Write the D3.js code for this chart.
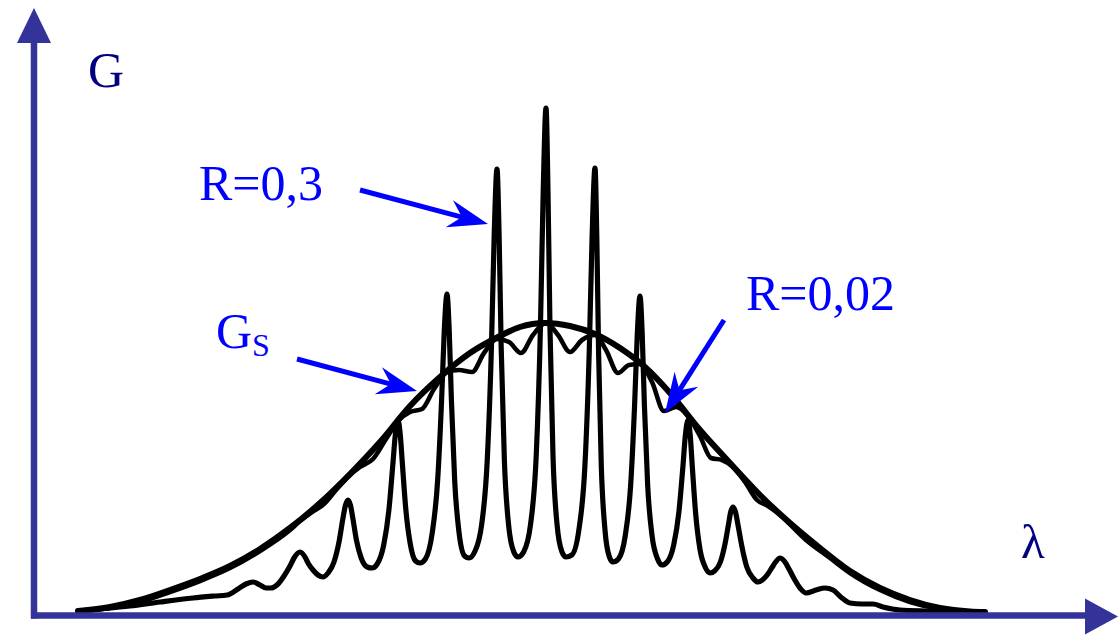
<!DOCTYPE html>
<html>
<head>
<meta charset="utf-8">
<script src="https://cdn.jsdelivr.net/npm/d3@7"></script>
<style>
  html, body { margin: 0; padding: 0; background: #fff; }
  svg { display: block; }
  .curve { fill: none; stroke: #000; stroke-linejoin: round; stroke-linecap: round; }
  text { font-family: "Liberation Serif", "Times New Roman", serif; }
</style>
</head>
<body>
<div id="chart"></div>
<script>
/* ---------------------------------------------------------------- */
/* DATA (lambda, G), arbitrary units            */
/* ---------------------------------------------------------------- */

// single-pass gain envelope G_S
const gsEnvelope = [
  [44, 1], [76, 5], [106, 12], [136, 22], [166, 33], [196, 46], [226, 63], [256, 84],
  [286, 109], [316, 138], [346, 170], [376, 206], [406, 235], [436, 259], [466, 276],
  [486, 285], [511, 289], [536, 286], [561, 278], [586, 264], [611, 245], [636, 219],
  [666, 182], [696, 149], [726, 117], [756, 89], [786, 64], [816, 41], [846, 24],
  [876, 12], [906, 4], [936, 0.5], [951, 0]
];

// R = 0,02 : small ripple just under the envelope
const gainR002 = [
  [44, 1], [76, 4], [106, 10], [136, 20], [166, 31], [196, 44], [226, 61], [256, 82],
  [266, 91], [278, 100], [290, 108], [302, 122], [314, 135], [326, 145], [339, 153],
  [352, 173], [364, 191], [376, 200], [388, 203], [400, 223], [413, 240], [425, 242],
  [438, 240], [450, 259], [463, 273], [475, 270], [487, 259], [499, 277], [512, 289],
  [524, 277], [536, 260], [548, 272], [561, 277], [572, 262], [584, 239], [595, 247],
  [606, 248], [618, 230], [630, 201], [642, 205], [654, 196], [666, 176], [677, 154],
  [688, 152], [699, 145], [711, 130], [723, 112], [734, 106], [746, 97], [772, 72],
  [796, 54], [816, 39], [846, 22], [876, 10], [906, 3], [936, 0.5], [951, 0]
];

// R = 0,3 : sharp Fabry-Perot modes
const gainR03 = [
  [44, 1], [66, 3], [96, 6], [126, 10], [159, 14], [181, 16], [193, 17], [204, 23],
  [212, 28], [219, 30], [226, 27], [232, 24], [237, 24], [243, 27], [250, 36], [256, 46],
  [260, 54], [266, 60], [271, 55], [274, 49], [279, 42], [284, 37], [289, 35], [294, 39],
  [300, 50], [305, 70], [309, 94], [311.5, 107], [314, 112], [316.4, 107], [318.8, 94],
  [322.4, 72], [327.2, 54], [333.2, 45], [338, 44], [343.2, 48], [349.7, 67], [354.9, 102],
  [358.8, 147], [361.4, 178], [364, 192], [366.2, 178], [368.4, 148], [371.7, 104],
  [376.1, 69], [381.6, 51], [386, 49], [391.4, 53], [398.2, 79], [403.6, 131], [407.6, 212],
  [410.3, 282], [413, 318], [415.2, 282], [417.4, 212], [420.7, 131], [425.1, 79],
  [430.6, 56], [435, 54], [440.6, 60], [447.6, 87], [453.2, 151], [457.4, 264], [460.2, 377],
  [463, 443], [465.1, 377], [467.2, 264], [470.4, 151], [474.6, 87], [479.8, 60], [484, 55],
  [489.6, 60], [496.6, 88], [502.2, 156], [506.4, 283], [509.2, 420], [512, 504], [514, 420],
  [516, 283], [519, 156], [523, 88], [528, 60], [532, 55], [537.8, 57], [545, 83],
  [550.9, 146], [555.2, 259], [558.1, 375], [561, 444], [562.8, 375], [564.6, 259],
  [567.3, 146], [570.9, 83], [575.4, 55], [579, 50], [584.4, 53], [591.2, 76], [596.6, 126],
  [600.6, 207], [603.3, 278], [606, 316], [608.2, 278], [610.4, 207], [613.7, 126],
  [618.1, 76], [623.6, 53], [628, 47], [633.2, 50], [639.7, 67], [644.9, 100], [648.8, 144],
  [651.4, 177], [654, 192], [656.2, 177], [658.4, 144], [661.7, 98], [666.1, 62],
  [671.6, 44], [676, 39], [680.6, 41], [686.4, 50], [691, 68], [694.4, 87], [696.7, 100],
  [699, 105], [701.5, 100], [704, 87], [707.8, 66], [712.8, 45], [719, 34], [724, 30],
  [728.4, 32], [733.9, 38], [738.3, 45], [741.6, 50], [746, 54], [751, 50], [755, 43],
  [760.3, 33], [766.8, 23], [772, 19], [782, 22], [791, 24], [799, 22], [808, 14], [816, 9],
  [828, 8], [839, 8], [849, 5], [866, 2], [896, 1], [926, 0]
];

// callouts: arrow start and arrow tip (lambda, G)
const callouts = [
  { from: [326, 422], tip: [454, 388] },   // R=0,3
  { from: [263, 253], tip: [383, 221] },   // G_S
  { from: [690, 292], tip: [631, 199] }    // R=0,02
];

/* ---------------------------------------------------------------- */
/* DRAW                                                              */
/* ---------------------------------------------------------------- */
const width = 1120, height = 638;
const axisColor = "#333399", labelColor = "#000080", noteColor = "#0000ff";

const svg = d3.select("#chart").append("svg")
  .attr("width", width)
  .attr("height", height);

const x = d3.scaleLinear().domain([0, 1084]).range([34, 1118]);
const y = d3.scaleLinear().domain([0, 600]).range([612, 12]);

const line = d3.line()
  .curve(d3.curveMonotoneX)
  .x(d => x(d[0]))
  .y(d => y(d[1]));

// curves
svg.append("path").datum(gsEnvelope).attr("class", "curve")
  .attr("stroke-width", 6).attr("d", line);
svg.append("path").datum(gainR002).attr("class", "curve")
  .attr("stroke-width", 4.6).attr("d", line);
svg.append("path").datum(gainR03).attr("class", "curve")
  .attr("stroke-width", 5.2).attr("d", line);

// arrow helper
function arrowHead(x1, y1, x2, y2, len, half, notch) {
  const dx = x2 - x1, dy = y2 - y1, L = Math.hypot(dx, dy);
  const ux = dx / L, uy = dy / L, nx = -uy, ny = ux;
  const bx = x2 - len * ux, by = y2 - len * uy;
  return {
    pts: [[x2, y2], [bx + half * nx, by + half * ny], [x2 - notch * ux, y2 - notch * uy], [bx - half * nx, by - half * ny]],
    shaftEnd: [x2 - notch * ux, y2 - notch * uy]
  };
}

// axes
const ox = x(0), oy = y(0) + 3.5;
const yTip = y(604), xTip = x(1084);
svg.append("line")
  .attr("x1", ox).attr("y1", oy + 3).attr("x2", ox).attr("y2", yTip + 30)
  .attr("stroke", axisColor).attr("stroke-width", 6.5);
svg.append("line")
  .attr("x1", ox - 3).attr("y1", oy).attr("x2", xTip - 30).attr("y2", oy)
  .attr("stroke", axisColor).attr("stroke-width", 6.5);
svg.append("polygon")
  .attr("points", [[ox, yTip], [ox - 17, yTip + 35], [ox + 17, yTip + 35]].join(" "))
  .attr("fill", axisColor);
svg.append("polygon")
  .attr("points", [[xTip, oy + 1], [xTip - 33, oy - 17], [xTip - 33, oy + 19]].join(" "))
  .attr("fill", axisColor);

// axis labels
svg.append("text").attr("x", 88).attr("y", 87)
  .attr("font-size", 50).attr("fill", labelColor).text("G");
svg.append("text").attr("x", 1021).attr("y", 558)
  .attr("font-size", 49).attr("fill", labelColor).text("λ");

// callout arrows
callouts.forEach(c => {
  const x1 = x(c.from[0]), y1 = y(c.from[1]), x2 = x(c.tip[0]), y2 = y(c.tip[1]);
  const h = arrowHead(x1, y1, x2, y2, 40, 14, 27);
  svg.append("line")
    .attr("x1", x1).attr("y1", y1).attr("x2", h.shaftEnd[0]).attr("y2", h.shaftEnd[1])
    .attr("stroke", noteColor).attr("stroke-width", 5);
  svg.append("polygon").attr("points", h.pts.join(" ")).attr("fill", noteColor);
});

// callout labels
svg.append("text").attr("x", 199).attr("y", 200)
  .attr("font-size", 50).attr("fill", noteColor).text("R=0,3");
svg.append("text").attr("x", 746).attr("y", 310)
  .attr("font-size", 50).attr("fill", noteColor).text("R=0,02");
const gs = svg.append("text").attr("x", 216).attr("y", 348)
  .attr("font-size", 50).attr("fill", noteColor);
gs.append("tspan").text("G");
gs.append("tspan").attr("font-size", 32).attr("dy", 8).text("S");
</script>
</body>
</html>
